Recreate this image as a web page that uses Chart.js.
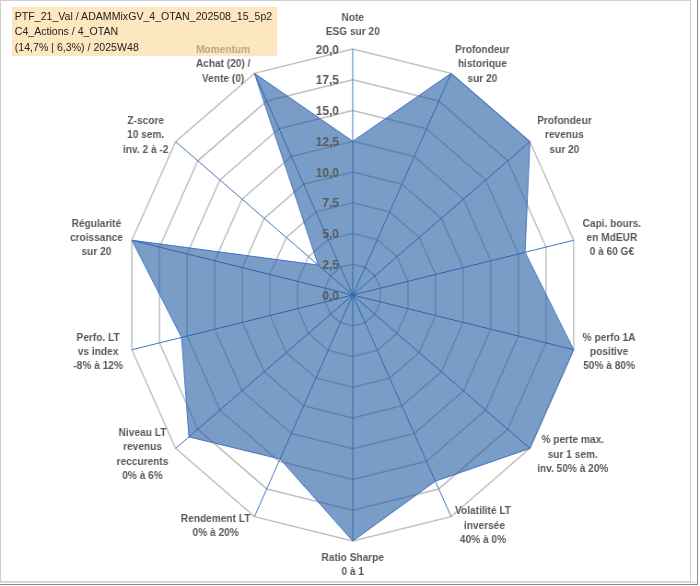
<!DOCTYPE html>
<html>
<head>
<meta charset="utf-8">
<script src="https://cdn.jsdelivr.net/npm/chart.js@4.4.1/dist/chart.umd.min.js"></script>
<style>
  html, body { margin: 0; padding: 0; background: #fff; }
  body { width: 700px; height: 586px; position: relative; overflow: hidden; }
  #frame { position: absolute; left: 0; top: 0; width: 689px; height: 580px;
           border: 1px solid #cfcfcf; }
  #outer { position: absolute; left: 0; top: 0; width: 697px; height: 584px;
           border-right: 1px solid #8a8a8a; border-bottom: 1px solid #8a8a8a; }
  #outer::after { content: ""; position: absolute; left: 0; right: 0; bottom: 1px;
           border-bottom: 1px solid #cfe3c8; }
  #wrap { position: absolute; left: 0; top: 0; width: 760px; height: 586px;
          transform: scaleX(0.921); transform-origin: 0 0; }
  #title { position: absolute; left: 13px; top: 7px; width: 285px; height: 45px;
           padding: 2px 0 2px 3px; background: rgba(250, 215, 150, 0.6);
           font: 11.5px "Liberation Sans", Arial, sans-serif; line-height: 15.3px;
           color: #222; white-space: nowrap; }
</style>
</head>
<body>
<div id="outer"></div>
<div id="frame"></div>
<div id="wrap">
  <canvas id="radar"></canvas>
  <div id="title"></div>
</div>
<script>
// Title lines
const titleLines = [
  "PTF_21_Val / ADAMMixGV_4_OTAN_202508_15_5p2",
  "C4_Actions / 4_OTAN",
  "(14,7% | 6,3%) / 2025W48",
];

// Axis labels (one entry per axis, multi-line)
const axisLabels = [
  ["Note", "ESG sur 20"],
  ["Profondeur", "historique", "sur 20"],
  ["Profondeur", "revenus", "sur 20"],
  ["Capi. bours.", "en MdEUR", "0 à 60 G€"],
  ["% perfo 1A", "positive", "50% à 80%"],
  ["% perte max.", "sur 1 sem.", "inv. 50% à 20%"],
  ["Volatilité LT", " inversée", "40% à 0%"],
  ["Ratio Sharpe", "0 à 1"],
  ["Rendement LT", "0% à 20%"],
  ["Niveau LT", "revenus", "reccurents", "0% à 6%"],
  ["Perfo. LT", "vs index", "-8% à 12%"],
  ["Régularité", "croissance", "sur 20"],
  ["Z-score", "10 sem.", "inv. 2 à -2"],
  ["Momentum", "Achat (20) /", "Vente (0)"],
];

// Scores
const scores = [12.5, 20, 20, 15.6, 20, 20, 16.8, 20, 14.8, 18.5, 15.5, 20, 3.9, 20];

// Radial tick labels
const tickLabels = ["0,0", "2,5", "5,0", "7,5", "10,0", "12,5", "15,0", "17,5", "20,0"];

document.getElementById("title").innerHTML = titleLines.join("<br>");

// Draws tick labels left of the vertical axis and the axis labels, Excel style
const excelLabels = {
  id: "excelLabels",
  afterDraw(chart) {
    const scale = chart.scales.r;
    const ctx = chart.ctx;
    ctx.save();

    ctx.font = 'bold 13px "Liberation Sans", Arial, sans-serif';
    ctx.fillStyle = "#595959";
    ctx.textAlign = "right";
    ctx.textBaseline = "middle";
    scale.ticks.forEach((tick, i) => {
      const p = scale.getPointPositionForValue(0, tick.value);
      ctx.fillText(tickLabels[i], p.x - 15, p.y + 1);
    });

    ctx.font = 'bold 11px "Liberation Sans", Arial, sans-serif';
    ctx.textAlign = "center";
    const lh = 14.3;
    axisLabels.forEach((lines, i) => {
      const p = scale.getPointPosition(i, scale.drawingArea + 10);
      const a = scale.getIndexAngle(i);
      const s = Math.sin(a);
      const w = Math.max(...lines.map((l) => ctx.measureText(l).width));
      const h = lines.length * lh;
      let cx, top;
      if (Math.abs(s) < 0.01) {
        cx = p.x;
        top = Math.cos(a) > 0 ? p.y - h : p.y;
      } else {
        cx = s > 0 ? p.x + w / 2 : p.x - w / 2;
        top = p.y - h / 2;
      }
      lines.forEach((l, j) => ctx.fillText(l, cx, top + lh * (j + 0.5)));
    });

    ctx.restore();
  },
};

new Chart(document.getElementById("radar"), {
  type: "radar",
  data: {
    labels: axisLabels.map((l) => l.join(" ")),
    datasets: [
      {
        data: scores,
        backgroundColor: "rgba(33, 92, 162, 0.6)",
        borderColor: "#4472C4",
        borderWidth: 1,
        pointRadius: 0,
        fill: true,
      },
    ],
  },
  options: {
    responsive: true,
    maintainAspectRatio: false,
    animation: false,
    layout: { padding: { left: 137, right: 131, top: 49, bottom: 45 } },
    plugins: {
      legend: { display: false },
      tooltip: { enabled: false },
    },
    scales: {
      r: {
        min: 0,
        max: 20,
        ticks: { stepSize: 2.5, display: false },
        grid: { color: "#bfbfbf", lineWidth: 1.5 },
        angleLines: { color: "#4472C4", lineWidth: 1 },
        pointLabels: { display: false },
      },
    },
  },
  plugins: [excelLabels],
});
</script>
</body>
</html>
